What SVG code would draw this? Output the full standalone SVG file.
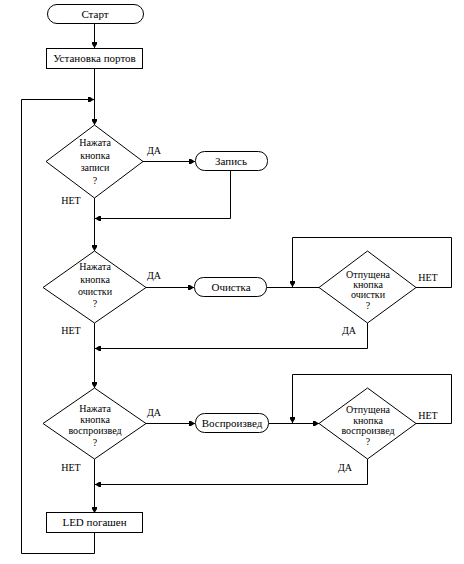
<svg xmlns="http://www.w3.org/2000/svg" width="464" height="564" viewBox="0 0 464 564" font-family="'Liberation Serif', 'DejaVu Serif', serif">
<style>
.s{fill:#fff;stroke:#000;stroke-width:1}
.c{fill:none;stroke:#000;stroke-width:1}
text{font-family:'Liberation Serif','DejaVu Serif',serif;fill:#000;text-anchor:middle}
.b{font-size:11px}
.d{font-size:10px}
.l{font-size:10px}
</style>
<defs>
<marker id="a" markerUnits="userSpaceOnUse" markerWidth="8" markerHeight="8" refX="7" refY="4" orient="auto">
<path d="M1,1.5 L3,1.5 L7,4 L3,6.5 L1,6.5 Z" fill="#000"/>
</marker>
</defs>
<rect width="464" height="564" fill="#fff"/>
<g id="connectors">
<path class="c" d="M94.5,23.5 V48" marker-end="url(#a)"/>
<path class="c" d="M94.5,68.5 V125" marker-end="url(#a)"/>
<path class="c" d="M94.5,532.5 V553.5 H21.5 V99.5 H94" marker-end="url(#a)"/>
<path class="c" d="M143,161.5 H195" marker-end="url(#a)"/>
<path class="c" d="M230.5,170.5 V218.5 H95" marker-end="url(#a)"/>
<path class="c" d="M94.5,198 V251" marker-end="url(#a)"/>
<path class="c" d="M146,287.5 H194" marker-end="url(#a)"/>
<path class="c" d="M266.5,287.5 H319"/>
<path class="c" d="M416,287.5 H451.5 V237.5 H292.5 V287" marker-end="url(#a)"/>
<path class="c" d="M367.5,323 V348.5 H95" marker-end="url(#a)"/>
<path class="c" d="M94.5,323 V388" marker-end="url(#a)"/>
<path class="c" d="M146,423.5 H195" marker-end="url(#a)"/>
<path class="c" d="M268.5,423.5 H319" marker-end="url(#a)"/>
<path class="c" d="M416,423.5 H451.5 V374.5 H292.5 V423" marker-end="url(#a)"/>
<path class="c" d="M367.5,459 V484.5 H95" marker-end="url(#a)"/>
<path class="c" d="M94.5,459 V513" marker-end="url(#a)"/>
<text class="l" x="154" y="154">ДА</text>
<text class="l" x="71" y="204">НЕТ</text>
<text class="l" x="154" y="279">ДА</text>
<text class="l" x="71" y="334">НЕТ</text>
<text class="l" x="428" y="281">НЕТ</text>
<text class="l" x="349" y="334">ДА</text>
<text class="l" x="154" y="416">ДА</text>
<text class="l" x="71" y="471">НЕТ</text>
<text class="l" x="428" y="419">НЕТ</text>
<text class="l" x="345" y="471">ДА</text>
</g>
<g id="start">
<rect class="s" x="47.5" y="4.5" width="96" height="19" rx="9.5"/>
<text class="b" x="95" y="17.5">Старт</text>
</g>
<g id="setup">
<rect class="s" x="46.5" y="48.5" width="96" height="20"/>
<text class="b" x="94.5" y="62">Установка портов</text>
</g>
<g id="d1">
<polygon class="s" points="94.5,125 143,161.5 94.5,198 46,161.5"/>
<text class="d" x="95" y="146">Нажата</text>
<text class="d" x="95" y="159">кнопка</text>
<text class="d" x="95" y="171">записи</text>
<text class="d" x="95" y="184">?</text>
</g>
<g id="rec">
<rect class="s" x="195.5" y="151.5" width="72" height="19" rx="9"/>
<text class="b" x="231" y="165">Запись</text>
</g>
<g id="d2">
<polygon class="s" points="94.5,251 146,287.5 94.5,323 43,287.5"/>
<text class="d" x="95" y="270">Нажата</text>
<text class="d" x="95" y="283">кнопка</text>
<text class="d" x="95" y="295">очистки</text>
<text class="d" x="95" y="307">?</text>
</g>
<g id="clear">
<rect class="s" x="194.5" y="277.5" width="72" height="19" rx="9"/>
<text class="b" x="231" y="291">Очистка</text>
</g>
<g id="d3">
<polygon class="s" points="367.5,251 416,287.5 367.5,323 319,287.5"/>
<text class="d" x="368" y="278">Отпущена</text>
<text class="d" x="368" y="288">кнопка</text>
<text class="d" x="368" y="298">очистки</text>
<text class="d" x="368" y="309">?</text>
</g>
<g id="d4">
<polygon class="s" points="94.5,388 146,423.5 94.5,459 43,423.5"/>
<text class="d" x="95" y="412">Нажата</text>
<text class="d" x="95" y="423">кнопка</text>
<text class="d" x="95" y="434">воспроизвед</text>
<text class="d" x="95" y="446">?</text>
</g>
<g id="play">
<rect class="s" x="195.5" y="413.5" width="73" height="19" rx="9"/>
<text class="b" x="232" y="427">Воспроизвед</text>
</g>
<g id="d5">
<polygon class="s" points="367.5,388 416,423.5 367.5,459 319,423.5"/>
<text class="d" x="368" y="413">Отпущена</text>
<text class="d" x="368" y="424">кнопка</text>
<text class="d" x="368" y="434">воспроизвед</text>
<text class="d" x="368" y="445">?</text>
</g>
<g id="led">
<rect class="s" x="46.5" y="512.5" width="96" height="20"/>
<text class="b" x="94.5" y="526">LED погашен</text>
</g>
</svg>
